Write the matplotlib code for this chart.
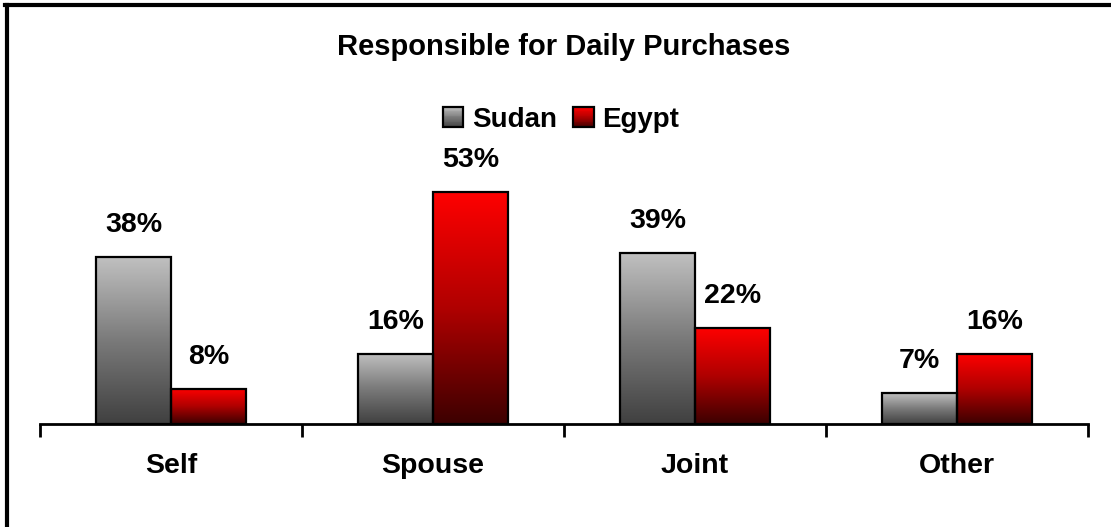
import numpy as np
import matplotlib
matplotlib.use("Agg")
import matplotlib.pyplot as plt
from matplotlib.colors import LinearSegmentedColormap
from matplotlib.patches import Rectangle
from matplotlib.lines import Line2D
from matplotlib.legend_handler import HandlerBase

# Data
categories = ["Self", "Spouse", "Joint", "Other"]
series_names = ["Sudan", "Egypt"]
sudan = [38, 16, 39, 7]
egypt = [8, 53, 22, 16]
title = "Responsible for Daily Purchases"

plt.rcParams["font.family"] = ["Liberation Sans", "DejaVu Sans"]
plt.rcParams["font.weight"] = "bold"

fig = plt.figure(figsize=(11.11, 5.27), dpi=100)
ax = fig.add_axes([40 / 1111, (527 - 424) / 527, 1048 / 1111, 263 / 527])

gray_cmap = LinearSegmentedColormap.from_list("g", ["#404040", "#7a7a7a", "#c0c0c0"])
red_cmap = LinearSegmentedColormap.from_list("r", ["#3c0000", "#b00000", "#ff0000"])

bar_w = 0.286
x = np.arange(len(categories))
grad = np.linspace(0, 1, 256).reshape(-1, 1)


def gradient_bar(xc, h, cmap):
    x0, x1 = xc - bar_w / 2, xc + bar_w / 2
    ax.imshow(grad, cmap=cmap, origin="lower", aspect="auto",
              extent=(x0, x1, 0, h), zorder=2, interpolation="bilinear")
    ax.add_patch(Rectangle((x0, 0), bar_w, h, fill=False, edgecolor="black",
                           linewidth=1.6, zorder=3))


for i in range(len(categories)):
    gradient_bar(x[i] - bar_w / 2, sudan[i], gray_cmap)
    gradient_bar(x[i] + bar_w / 2, egypt[i], red_cmap)
    for xc, v in ((x[i] - bar_w / 2, sudan[i]), (x[i] + bar_w / 2, egypt[i])):
        ax.annotate(f"{v}%", xy=(xc, v), xytext=(0, 18), textcoords="offset points",
                    ha="center", va="baseline", fontsize=20.5, fontweight="bold")

ax.set_xlim(-0.5, len(categories) - 0.5)
ax.set_ylim(0, 60)
for s in ("top", "right", "left"):
    ax.spines[s].set_visible(False)
ax.spines["bottom"].set_linewidth(2)
ax.set_yticks([])
ax.set_xticks(np.arange(len(categories) + 1) - 0.5)
ax.set_xticklabels([])
ax.tick_params(axis="x", direction="out", length=9, width=2)
for i, c in enumerate(categories):
    ax.text(x[i], -49 * 60 / 263, c, ha="center", va="baseline",
            fontsize=20.5, fontweight="bold", transform=ax.transData, clip_on=False)

fig.text(0.5 * (335 + 792) / 1111, (527 - 55) / 527, title, ha="center",
         va="baseline", fontsize=21, fontweight="bold")


class GradientSwatch:
    def __init__(self, cmap):
        self.cmap = cmap


class HandlerGradient(HandlerBase):
    def create_artists(self, legend, orig_handle, xdescent, ydescent, width, height,
                       fontsize, trans):
        n = 24
        arts = []
        for k in range(n):
            frac = (k + 0.5) / n
            r = Rectangle((-xdescent, -ydescent + height * k / n), width, height / n + 0.3,
                          facecolor=orig_handle.cmap(frac), edgecolor="none",
                          transform=trans)
            arts.append(r)
        arts.append(Rectangle((-xdescent, -ydescent), width, height, fill=False,
                              edgecolor="black", linewidth=1.6, transform=trans))
        return arts


handles = [GradientSwatch(gray_cmap), GradientSwatch(red_cmap)]
leg = fig.legend(handles, series_names, loc="center",
                 bbox_to_anchor=(561 / 1111, (527 - 120) / 527),
                 ncol=2, frameon=False, fontsize=20, handlelength=0.75, handleheight=0.75,
                 handletextpad=0.3, columnspacing=0.6, borderpad=0,
                 handler_map={GradientSwatch: HandlerGradient()})

# Outer frame (top and left edges)
fig.add_artist(Line2D([6.5 / 1111, 6.5 / 1111], [0, 1 - 5 / 527], color="black",
                      linewidth=3, transform=fig.transFigure))
fig.add_artist(Line2D([5 / 1111, 1], [1 - 5 / 527, 1 - 5 / 527], color="black",
                      linewidth=3, transform=fig.transFigure))

fig.savefig("out.png", dpi=100)
